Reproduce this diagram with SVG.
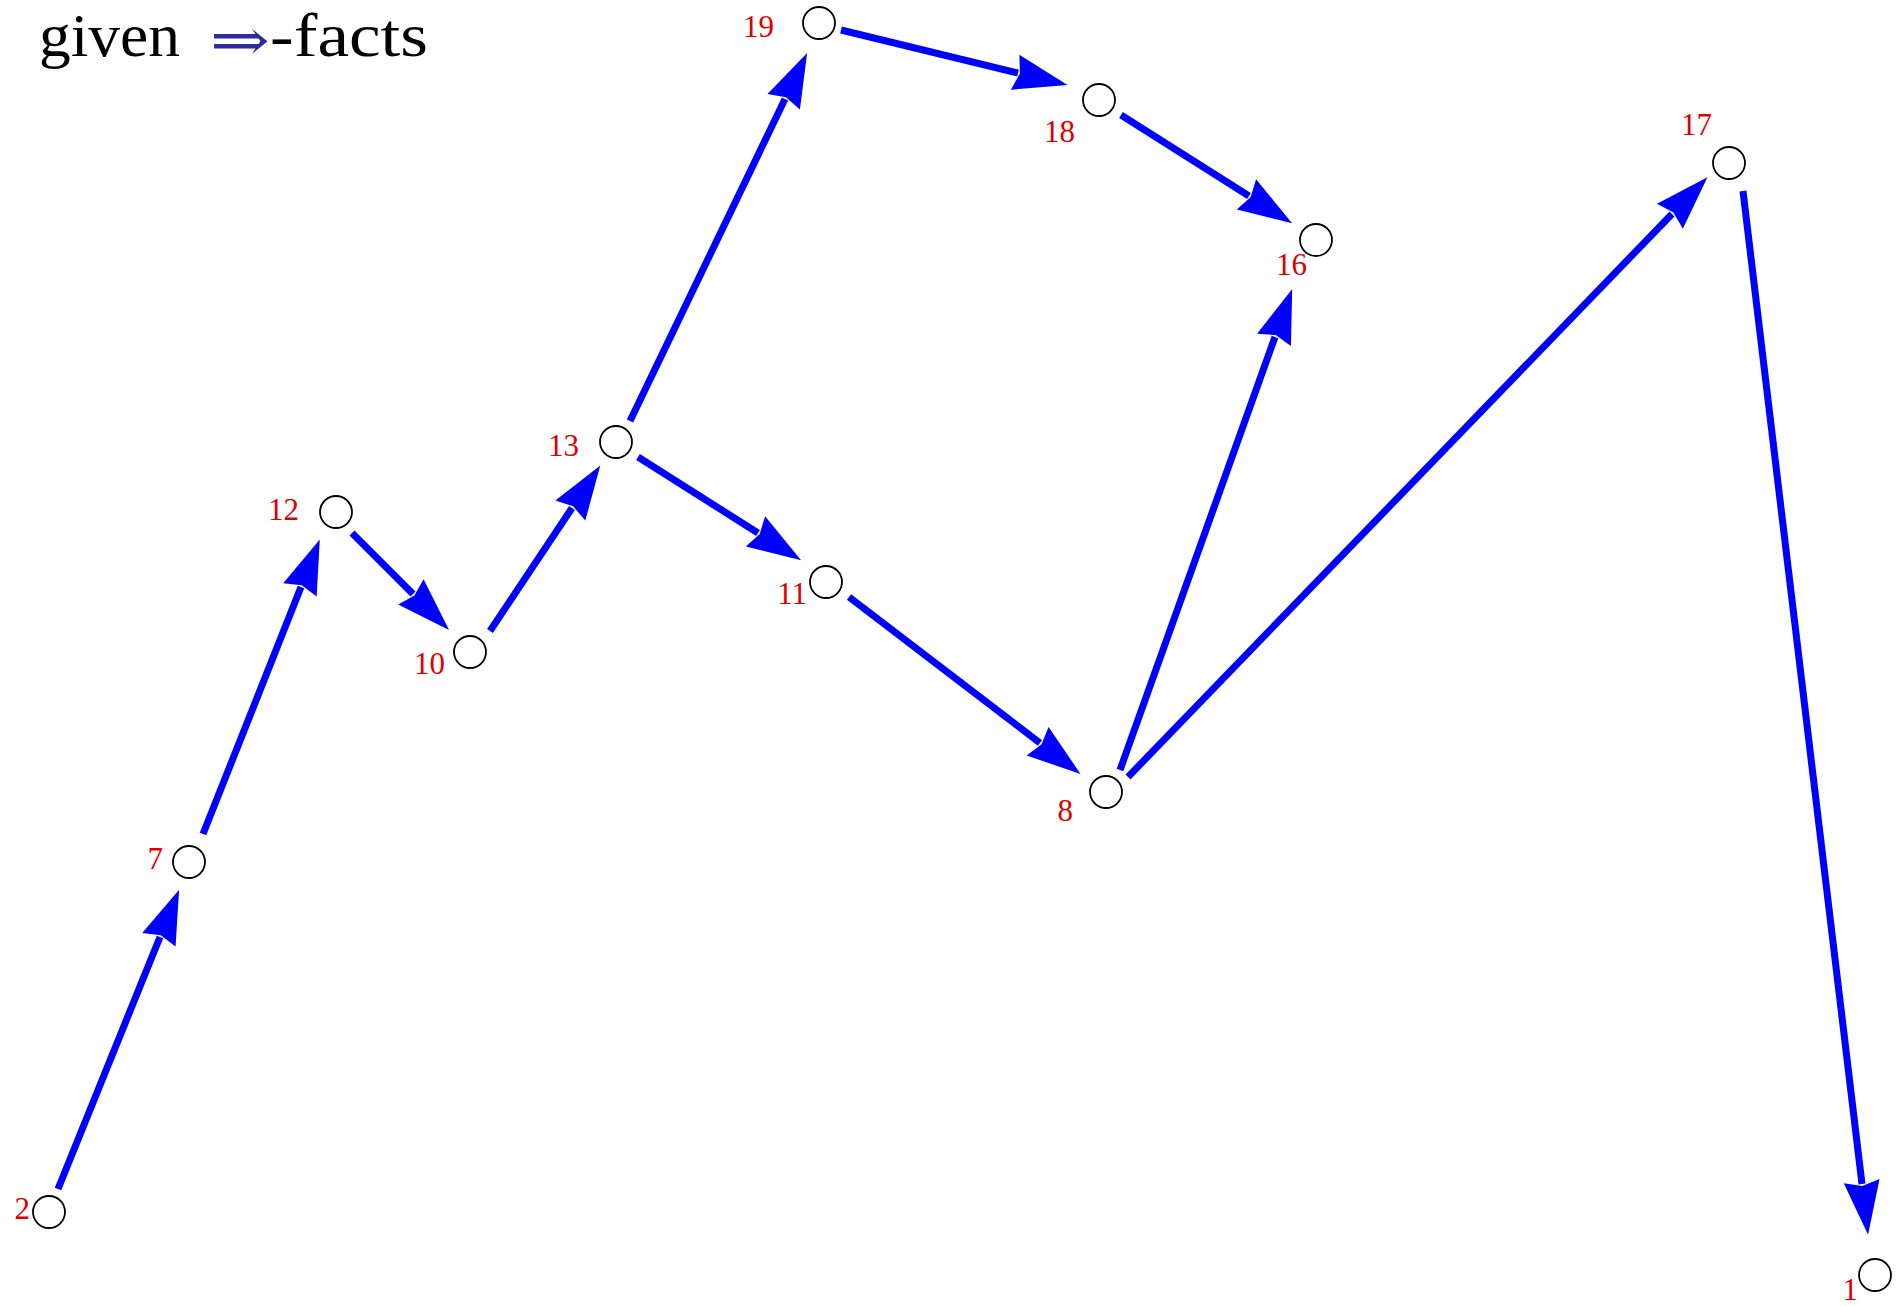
<svg xmlns="http://www.w3.org/2000/svg" width="1898" height="1306" viewBox="0 0 1898 1306">
<style>
.node circle{fill:#fff;stroke:#000;stroke-width:1.8}
.node text{font-family:"Liberation Serif","Times New Roman",serif;font-size:31px;fill:#dd0000}
.edge{stroke:#0000ff;stroke-width:7;fill:none}
.title{font-family:"Liberation Serif","Times New Roman",serif;font-size:62px;fill:#000}
</style>
<defs>
<marker id="ah" markerUnits="userSpaceOnUse" markerWidth="60" markerHeight="40" refX="3" refY="20" orient="auto" overflow="visible">
<path d="M0,2 L54,20 L0,38 L5,20 Z" fill="#0000ff"/>
</marker>
</defs>
<rect width="1898" height="1306" fill="#fff"/>
<g id="title">
<text class="title" x="39" y="56" textLength="141" lengthAdjust="spacingAndGlyphs">given</text>
<text x="210" y="60" textLength="60" lengthAdjust="spacingAndGlyphs" style="font-family:'DejaVu Serif',serif;font-size:58px;fill:#2b2b9e">⇒</text>
<text class="title" x="270" y="56" textLength="158" lengthAdjust="spacingAndGlyphs">-facts</text>
</g>
<g id="connectors">
<line class="edge" marker-end="url(#ah)" x1="58" y1="1189" x2="160" y2="937"/>
<line class="edge" marker-end="url(#ah)" x1="203" y1="834" x2="301" y2="587"/>
<line class="edge" marker-end="url(#ah)" x1="352" y1="533" x2="413" y2="594"/>
<line class="edge" marker-end="url(#ah)" x1="490" y1="631" x2="572" y2="508"/>
<line class="edge" marker-end="url(#ah)" x1="630" y1="421" x2="785" y2="99"/>
<line class="edge" marker-end="url(#ah)" x1="841" y1="30" x2="1018" y2="73"/>
<line class="edge" marker-end="url(#ah)" x1="1121" y1="115" x2="1249" y2="196"/>
<line class="edge" marker-end="url(#ah)" x1="638" y1="457" x2="758" y2="533"/>
<line class="edge" marker-end="url(#ah)" x1="849" y1="597" x2="1040" y2="743"/>
<line class="edge" marker-end="url(#ah)" x1="1120" y1="770" x2="1275" y2="337"/>
<line class="edge" marker-end="url(#ah)" x1="1128" y1="777" x2="1672" y2="214"/>
<line class="edge" marker-end="url(#ah)" x1="1743" y1="191" x2="1862" y2="1184"/>
</g>
<g id="n1" class="node"><circle cx="1875" cy="1275" r="16"/><text x="1858" y="1300" text-anchor="end">1</text></g>
<g id="n2" class="node"><circle cx="49" cy="1212" r="16"/><text x="30" y="1219" text-anchor="end">2</text></g>
<g id="n7" class="node"><circle cx="189" cy="862" r="16"/><text x="163" y="869" text-anchor="end">7</text></g>
<g id="n8" class="node"><circle cx="1106" cy="792" r="16"/><text x="1073" y="821" text-anchor="end">8</text></g>
<g id="n10" class="node"><circle cx="470" cy="652" r="16"/><text x="445" y="674" text-anchor="end">10</text></g>
<g id="n11" class="node"><circle cx="826" cy="582" r="16"/><text x="807" y="604" text-anchor="end">11</text></g>
<g id="n12" class="node"><circle cx="336" cy="512" r="16"/><text x="299" y="520" text-anchor="end">12</text></g>
<g id="n13" class="node"><circle cx="616" cy="442" r="16"/><text x="579" y="456" text-anchor="end">13</text></g>
<g id="n16" class="node"><circle cx="1316" cy="240" r="16"/><text x="1307" y="275" text-anchor="end">16</text></g>
<g id="n17" class="node"><circle cx="1729" cy="163" r="16"/><text x="1712" y="135" text-anchor="end">17</text></g>
<g id="n18" class="node"><circle cx="1099" cy="100" r="16"/><text x="1075" y="142" text-anchor="end">18</text></g>
<g id="n19" class="node"><circle cx="819" cy="23" r="16"/><text x="774" y="37" text-anchor="end">19</text></g>
</svg>
